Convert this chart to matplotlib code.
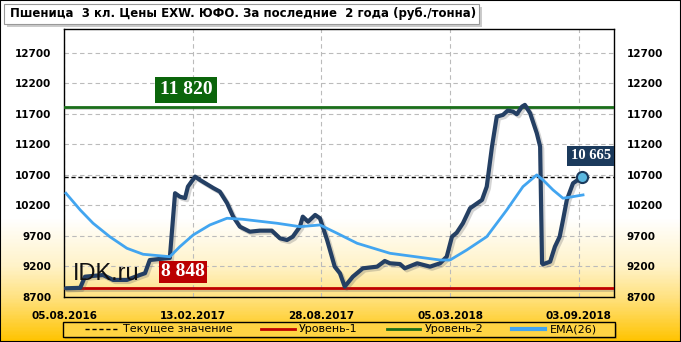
import numpy as np
import matplotlib
matplotlib.use('Agg')
from matplotlib import pyplot as plt
from matplotlib import patheffects as pe
from matplotlib.colors import LinearSegmentedColormap
from matplotlib.patches import Rectangle

# week index (approx.) and price
price_x = [0.4, 3.4, 4.4, 8.2, 10.3, 13.2, 15.9, 17.0, 18.0, 22.2, 23.3, 24.3, 25.4, 26.0, 27.5,
           28.5, 31.3, 32.7, 34.2, 35.5, 36.9, 39.0, 41.1, 43.6, 45.3, 46.8, 48.0, 49.5, 50.1,
           51.2, 52.7, 53.7, 55.2, 56.8, 57.9, 58.9, 60.6, 62.7, 65.7, 67.3, 68.4, 70.5, 71.5,
           74.1, 76.8, 78.9, 80.3, 81.4, 82.4, 83.7, 85.2, 86.2, 87.7, 88.7, 89.8, 90.8, 92.1,
           93.1, 94.2, 95.0, 96.1, 96.7, 97.8, 99.2, 99.9, 100.3, 100.5, 102.0, 103.0, 104.0,
           104.7, 105.5, 106.8, 108.7]
price_y = [8843, 8850, 9033, 9060, 8980, 8980, 9060, 9090, 9306, 9340, 10400, 10344, 10320, 10508, 10672,
           10618, 10486, 10426, 10240, 10016, 9852, 9770, 9787, 9787, 9662, 9634, 9688, 9852, 10016,
           9934, 10044, 9990, 9634, 9197, 9088, 8870, 9033, 9170, 9197, 9290, 9252, 9240, 9170,
           9252, 9197, 9252, 9360, 9688, 9754, 9908, 10154, 10208, 10290, 10508, 11164, 11655, 11683,
           11754, 11737, 11694, 11819, 11847, 11711, 11383, 11164, 9252, 9236, 9279, 9524, 9688,
           9962, 10290, 10563, 10665]

ema_x = [0.4, 3.4, 6.1, 9.6, 13.2, 16.6, 22.2, 24.3, 27.1, 30.6, 34.2, 37.5, 44.7, 49.5, 53.7,
         57.3, 61.5, 68.4, 78.9, 81.0, 84.5, 88.7, 92.9, 96.3, 99.2, 100.5, 102.6, 104.7, 106.8, 108.9]
ema_y = [10400, 10126, 9908, 9688, 9498, 9400, 9360, 9524, 9716, 9880, 9990, 9973, 9908, 9852, 9880,
         9744, 9580, 9416, 9306, 9306, 9470, 9688, 10126, 10508, 10700, 10618, 10454, 10318, 10344, 10372]

current = 10665
level1 = 8848
level2 = 11820

tick_idx = [0, 27, 54, 81, 108]
tick_labels = ['05.08.2016', '13.02.2017', '28.08.2017', '05.03.2018', '03.09.2018']
yticks = list(range(8700, 12701, 500))

title = 'Пшеница  3 кл. Цены EXW. ЮФО. За последние  2 года (руб./тонна)'
legend_labels = ['Текущее значение', 'Уровень-1', 'Уровень-2', 'EMA(26)']

fig = plt.figure(figsize=(6.81, 3.42), dpi=100)

# background gradient (white on top -> gold at the bottom), value 0 = top
bg = fig.add_axes([0, 0, 1, 1], zorder=-2)
cmap = LinearSegmentedColormap.from_list('bg', [(0, '#ffffff'), (0.64, '#ffffff'), (0.78, '#fff3c8'),
                                                (0.87, '#ffe282'), (0.94, '#ffd23c'), (1.0, '#ffc400')])
grad = np.linspace(0, 1, 342).reshape(-1, 1)
bg.imshow(grad, aspect='auto', cmap=cmap, extent=[0, 1, 0, 1], origin='upper')
bg.set_xlim(0, 1)
bg.set_ylim(0, 1)
bg.axis('off')

ax = fig.add_axes([64 / 681, 45 / 342, 550 / 681, 268 / 342])
ax.set_facecolor('none')

shadow = [pe.SimpleLineShadow(offset=(1.2, -1.2), shadow_color='#666666', alpha=0.3), pe.Normal()]

ax.axhline(current, color='black', lw=1, ls=(0, (3, 2)), zorder=3)
ax.axhline(level1, color='#c00000', lw=2, zorder=3, path_effects=shadow)
ax.axhline(level2, color='#1a6e1a', lw=2, zorder=3, path_effects=shadow)
ax.plot(price_x, price_y, color='#243f63', lw=3, solid_joinstyle='round', solid_capstyle='round',
        zorder=4, path_effects=[pe.SimpleLineShadow(offset=(1.5, -1.5), shadow_color='#555555', alpha=0.25),
                                pe.Normal()])
ax.plot(ema_x, ema_y, color='#42a5f0', lw=2, zorder=5, solid_joinstyle='round')
ax.plot(price_x[-1], price_y[-1], 'o', ms=8, mfc='#5bb8e0', mec='#1b3a5c', mew=1.5, zorder=6)

# legend handles
l1, = ax.plot([], [], color='black', lw=1, ls=(0, (3, 2)))
l2, = ax.plot([], [], color='#c00000', lw=2)
l3, = ax.plot([], [], color='#1a6e1a', lw=2)
l4, = ax.plot([], [], color='#42a5f0', lw=3)

ax.set_xlim(0, 115.4)
ax.set_ylim(8700, 13090)
ax.set_xticks(tick_idx)
ax.set_xticklabels(tick_labels, fontsize=7.5, fontweight='bold')
ax.set_yticks(yticks)
ax.set_yticklabels([str(v) for v in yticks], fontsize=7.5, fontweight='bold')
ax.tick_params(axis='y', length=0, pad=9, labelright=True, right=False)
ax.tick_params(axis='x', length=0, pad=10)
ax.grid(True, color='#bbbbbb', ls=(0, (4, 3)), lw=0.8)
ax.set_axisbelow(True)
for s in ax.spines.values():
    s.set_color('black')
    s.set_linewidth(1)

# value boxes
ax.text(25.6, 12093, '11 820', color='white', fontsize=14, fontweight='bold', family='Liberation Serif',
        ha='center', va='center', zorder=7,
        bbox=dict(boxstyle='square,pad=0.22', fc='#0b650b', ec='none'))
ax.text(25.0, 9110, '8 848', color='white', fontsize=14, fontweight='bold', family='Liberation Serif',
        ha='center', va='center', zorder=7,
        bbox=dict(boxstyle='square,pad=0.12', fc='#bb0000', ec='none'))
ax.text(110.5, 11011, '10 665', color='white', fontsize=10.5, fontweight='bold', family='Liberation Serif',
        ha='center', va='center', zorder=7, clip_on=False,
        bbox=dict(boxstyle='square,pad=0.25', fc='#1b3a5c', ec='none'))

ax.text(1.8, 8979, 'IDK.ru', fontsize=17, family='Liberation Sans', color='#111111', va='baseline', zorder=6)

# title box with shadow
fig.patches.append(Rectangle((7 / 681, 1 - 27 / 342), 475 / 681, 20 / 342, transform=fig.transFigure,
                             fc='#999999', ec='none', alpha=0.5, zorder=1))
fig.patches.append(Rectangle((4 / 681, 1 - 24 / 342), 475 / 681, 20 / 342, transform=fig.transFigure,
                             fc='white', ec='#999999', lw=0.8, zorder=2))
fig.text(10 / 681, 1 - 14 / 342, title, fontsize=8.5, fontweight='bold', va='center', ha='left', zorder=3)

# legend frame drawn separately (shadow, then a filled box on top of it)
fig.patches.append(Rectangle((65 / 681, 1 - 339 / 342), 552 / 681, 15 / 342, transform=fig.transFigure,
                             fc='#b08a20', ec='none', alpha=0.45, zorder=1))
fig.patches.append(Rectangle((63 / 681, 1 - 337 / 342), 552 / 681, 15 / 342, transform=fig.transFigure,
                             fc='#ffd444', ec='black', lw=1, zorder=2))
leg = fig.legend([l1, l2, l3, l4], legend_labels,
                 loc='center', bbox_to_anchor=(341 / 681, 1 - 329.5 / 342), ncol=4, fontsize=8,
                 frameon=False, handlelength=3, handletextpad=0.4, columnspacing=2.6)
leg.set_zorder(3)

# outer border
fig.patches.append(Rectangle((0, 0), 1, 1, transform=fig.transFigure, fc='none', ec='black', lw=1.5, zorder=10))

fig.savefig('out.png', dpi=100)
